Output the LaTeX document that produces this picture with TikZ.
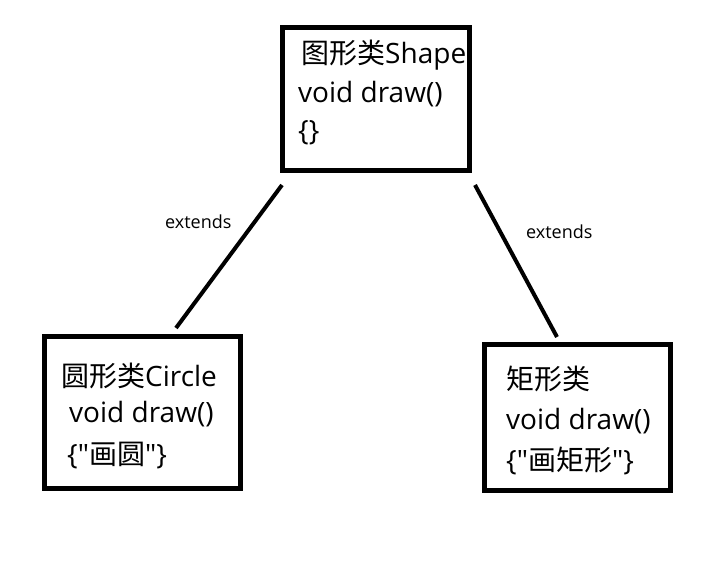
\documentclass[tikz,border=0pt]{standalone}
\usepackage{fontspec}
\setmainfont{Open Sans}
\newfontfamily\cjk{Noto Sans CJK SC}
\newfontfamily\qfont{Open Sans}[Ligatures=TeXOff]
\newcommand{\sq}{{\qfont"}}
\begin{document}
\begin{tikzpicture}[x=1pt,y=-1pt,
  box/.style={draw=black,line width=5pt,minimum width=#1,inner sep=0pt},
  boxtext/.style={anchor=base west,inner sep=0pt,font=\fontsize{28}{28}\selectfont},
  lbl/.style={anchor=base west,inner sep=0pt,font=\fontsize{18}{18}\selectfont},
  link/.style={line width=4pt}]
\useasboundingbox (0,0) rectangle (725,584);
% boxes
\node[box=187pt,minimum height=143pt] (shape) at (376,99) {};
\node[box=196pt,minimum height=152pt] (circle) at (142,412) {};
\node[box=186pt,minimum height=146pt] (rect) at (577,417) {};
% texts
\node[boxtext] (s1) at (301,63) {{\cjk 图形类}Shape};
\node[boxtext] (s2) at (298,102) {void draw()};
\node[boxtext] (s3) at (298,140) {\{\}};
\node[boxtext] (c1) at (61,386) {{\cjk 圆形类}Circle};
\node[boxtext] (c2) at (69,422) {void draw()};
\node[boxtext] (c3) at (67,464) {\{\sq{\cjk 画圆}\sq\}};
\node[boxtext] (r1) at (506,389) {{\cjk 矩形类}};
\node[boxtext] (r2) at (506,429) {void draw()};
\node[boxtext] (r3) at (506,470) {\{\sq{\cjk 画矩形}\sq\}};
% connectors
\coordinate (a1) at (282,185);
\coordinate (a2) at (176,328);
\coordinate (b1) at (475,185);
\coordinate (b2) at (557,337);
\draw[link] (a1) -- (a2);
\draw[link] (b1) -- (b2);
\node[lbl] (e1) at (165,228) {extends};
\node[lbl] (e2) at (526,238) {extends};
\end{tikzpicture}
\end{document}
